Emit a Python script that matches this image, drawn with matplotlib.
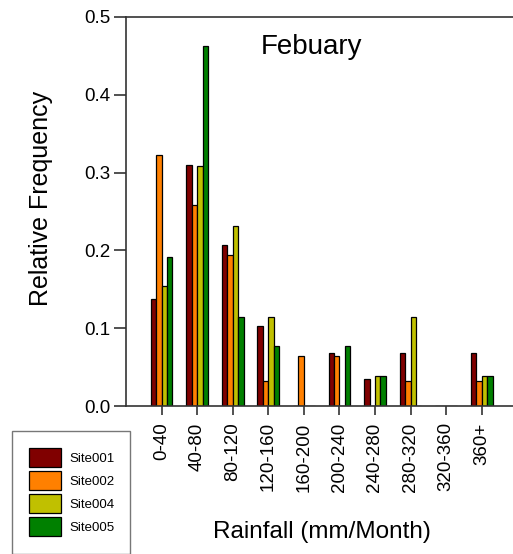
import matplotlib
matplotlib.use("Agg")
import matplotlib.pyplot as plt
import numpy as np

plt.rcParams['font.family'] = ['Liberation Sans', 'DejaVu Sans']

categories = ["0-40", "40-80", "80-120", "120-160", "160-200", "200-240",
              "240-280", "280-320", "320-360", "360+"]
site001 = [0.138, 0.310, 0.207, 0.103, 0.0, 0.069, 0.0345, 0.069, 0.0, 0.069]
site002 = [0.323, 0.258, 0.194, 0.032, 0.0645, 0.0645, 0.0, 0.032, 0.0, 0.032]
site004 = [0.154, 0.308, 0.231, 0.115, 0.0, 0.0, 0.0385, 0.115, 0.0, 0.0385]
site005 = [0.192, 0.462, 0.115, 0.077, 0.0, 0.077, 0.0385, 0.0, 0.0, 0.0385]
series_names = ["Site001", "Site002", "Site004", "Site005"]
colors = ["#800000", "#FF8000", "#C0C000", "#008000"]

fig = plt.figure(figsize=(5.13, 5.54), dpi=100)
ax = fig.add_axes([126/513, 1 - 406.3/554, 1 - 126/513, (406.3 - 16.7)/554])

x = np.arange(len(categories))
w = 0.152
for i, (vals, name, c) in enumerate(zip([site001, site002, site004, site005], series_names, colors)):
    ax.bar(x + (i - 1.5) * w, vals, width=w, color=c, edgecolor="black",
           linewidth=0.9, label=name)

ax.set_xlim(-1, 9.88)
ax.set_ylim(0, 0.5)
ax.set_yticks([0.0, 0.1, 0.2, 0.3, 0.4, 0.5])
ax.set_yticklabels(["0.0", "0.1", "0.2", "0.3", "0.4", "0.5"], fontsize=13.5)
ax.set_xticks(x)
ax.set_xticklabels(categories, rotation=90, fontsize=13.5)
ax.tick_params(axis='y', direction='out', length=8.5, width=1.2, color="#333333", pad=3)
ax.tick_params(axis='x', direction='out', length=6.5, width=1.2, color="#333333", pad=5)
for s in ['left', 'top', 'bottom']:
    ax.spines[s].set_color("#333333")
    ax.spines[s].set_linewidth(1.2)
ax.spines['right'].set_visible(False)

fig.text(311.7/513, 1 - 47/554, "Febuary", fontsize=20,
         ha='center', va='center')
fig.text(321.7/513, 1 - 531.7/554, "Rainfall (mm/Month)", fontsize=17.5,
         ha='center', va='center')
fig.text(41/513, 1 - 198/554, "Relative Frequency", fontsize=18, rotation=90,
         ha='center', va='center')

leg = fig.legend(loc='upper left', bbox_to_anchor=(12/513, 0, 118/513, 1 - 431/554),
                 mode='expand', fontsize=9.5, frameon=True, fancybox=False,
                 edgecolor="#555555", handlelength=2.4, handleheight=1.85,
                 labelspacing=0.3, borderpad=1.3, handletextpad=0.66,
                 borderaxespad=0)
leg.get_frame().set_linewidth(1.0)

fig.savefig("out.png", dpi=100)
